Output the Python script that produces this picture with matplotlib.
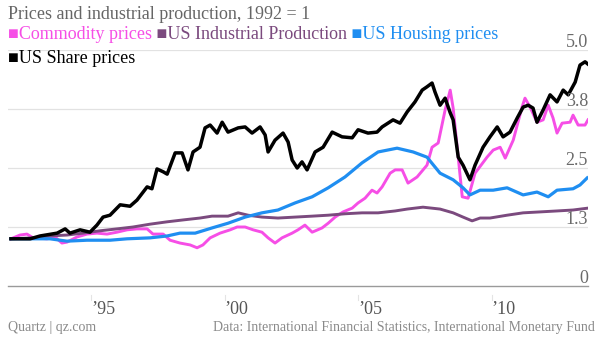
import matplotlib
matplotlib.use("Agg")
import matplotlib.pyplot as plt

# ---------------- data (index, 1992 = 1) ----------------
share_years = [1992.0, 1992.72, 1993.09, 1993.73, 1994.03, 1994.21, 1994.59, 1994.96, 1995.22, 1995.45,
               1995.71, 1996.09, 1996.46, 1996.72, 1997.10, 1997.28, 1997.47, 1997.70, 1997.85, 1998.15,
               1998.41, 1998.63, 1998.82, 1999.08, 1999.27, 1999.46, 1999.72, 1999.91, 2000.13, 2000.51,
               2000.77, 2001.03, 2001.33, 2001.52, 2001.63, 2001.89, 2002.19, 2002.38, 2002.53, 2002.72,
               2002.90, 2003.09, 2003.39, 2003.69, 2004.03, 2004.40, 2004.78, 2005.00, 2005.37, 2005.71,
               2005.90, 2006.31, 2006.57, 2006.84, 2007.13, 2007.40, 2007.58, 2007.77, 2007.88, 2008.07,
               2008.26, 2008.45, 2008.56, 2008.75, 2008.93, 2009.19, 2009.38, 2009.68, 2009.94, 2010.21,
               2010.43, 2010.69, 2010.96, 2011.18, 2011.37, 2011.55, 2011.70, 2011.93, 2012.19, 2012.45,
               2012.68, 2012.87, 2013.13, 2013.31, 2013.50, 2013.61]
share_prices = [1.00, 1.00, 1.06, 1.12, 1.21, 1.12, 1.19, 1.14, 1.29, 1.46,
                1.50, 1.72, 1.69, 1.82, 2.10, 2.06, 2.48, 2.42, 2.37, 2.82,
                2.82, 2.46, 2.84, 2.94, 3.35, 3.41, 3.24, 3.47, 3.26, 3.35,
                3.37, 3.24, 3.37, 3.20, 2.84, 3.09, 3.24, 3.05, 2.67, 2.50,
                2.63, 2.46, 2.84, 2.94, 3.26, 3.16, 3.14, 3.31, 3.24, 3.26,
                3.37, 3.52, 3.45, 3.69, 3.90, 4.15, 4.22, 4.30, 4.11, 3.83,
                3.98, 3.67, 3.52, 2.73, 2.56, 2.25, 2.56, 2.94, 3.16, 3.37,
                3.16, 3.26, 3.56, 3.79, 3.83, 3.77, 3.47, 3.73, 4.05, 3.90,
                4.15, 4.05, 4.32, 4.68, 4.75, 4.70]

commodity_years = [1992.0, 1992.34, 1992.60, 1992.83, 1993.35, 1993.65, 1993.91, 1994.10, 1994.48, 1994.85,
                   1995.22, 1995.60, 1995.97, 1996.35, 1996.72, 1997.10, 1997.32, 1997.70, 1997.96, 1998.33,
                   1998.71, 1998.97, 1999.19, 1999.46, 1999.83, 2000.21, 2000.47, 2000.77, 2001.07, 2001.40,
                   2001.63, 2001.89, 2002.15, 2002.53, 2002.75, 2003.01, 2003.28, 2003.65, 2003.88, 2004.14,
                   2004.44, 2004.78, 2005.00, 2005.26, 2005.52, 2005.71, 2005.90, 2006.20, 2006.39, 2006.65,
                   2006.87, 2007.21, 2007.58, 2007.77, 2008.00, 2008.26, 2008.45, 2008.56, 2008.75, 2008.90,
                   2009.12, 2009.38, 2009.83, 2010.06, 2010.32, 2010.51, 2010.81, 2011.14, 2011.25, 2011.44,
                   2011.70, 2011.93, 2012.12, 2012.30, 2012.45, 2012.64, 2012.94, 2013.05, 2013.24, 2013.50,
                   2013.61]
commodity_prices = [1.00, 1.08, 1.10, 1.02, 1.00, 1.04, 0.91, 0.93, 1.04, 1.10,
                    1.12, 1.10, 1.14, 1.19, 1.21, 1.21, 1.10, 1.10, 0.97, 0.91,
                    0.87, 0.81, 0.87, 1.02, 1.12, 1.19, 1.25, 1.25, 1.19, 1.14,
                    1.02, 0.91, 1.02, 1.12, 1.19, 1.29, 1.14, 1.23, 1.33, 1.46,
                    1.57, 1.65, 1.76, 1.86, 2.03, 1.97, 2.10, 2.39, 2.46, 2.46,
                    2.18, 2.31, 2.56, 2.94, 3.03, 3.73, 4.15, 3.77, 2.73, 1.89,
                    1.86, 2.39, 2.73, 2.88, 2.94, 2.71, 3.09, 3.79, 3.98, 3.79,
                    3.47, 3.52, 3.83, 3.56, 3.24, 3.45, 3.47, 3.62, 3.41, 3.41,
                    3.52]

housing_years = [1992.0, 1992.72, 1993.46, 1994.10, 1994.85, 1995.71, 1996.35, 1997.21, 1997.85, 1998.33,
                 1998.90, 1999.53, 2000.13, 2000.77, 2001.40, 2002.00, 2002.64, 2003.28, 2003.88, 2004.51,
                 2005.15, 2005.75, 2006.46, 2007.06, 2007.58, 2008.07, 2008.56, 2008.93, 2009.19, 2009.57,
                 2010.06, 2010.58, 2011.18, 2011.70, 2012.12, 2012.45, 2013.05, 2013.31, 2013.58]
housing_prices = [1.00, 1.00, 1.00, 0.95, 0.97, 0.97, 1.00, 1.02, 1.06, 1.12,
                  1.12, 1.23, 1.33, 1.46, 1.55, 1.61, 1.76, 1.89, 2.08, 2.31,
                  2.61, 2.84, 2.92, 2.84, 2.73, 2.39, 2.25, 2.08, 1.93, 2.03,
                  2.03, 2.08, 1.93, 1.99, 1.89, 2.03, 2.06, 2.14, 2.29]

industrial_years = [1992.0, 1992.83, 1993.46, 1994.10, 1994.70, 1995.34, 1995.97, 1996.57, 1997.21, 1997.85,
                    1998.45, 1999.08, 1999.53, 2000.13, 2000.51, 2000.88, 2001.40, 2002.00, 2002.64, 2003.28,
                    2003.88, 2004.51, 2005.15, 2005.75, 2006.39, 2006.84, 2007.43, 2008.07, 2008.56, 2008.93,
                    2009.27, 2009.57, 2009.94, 2010.58, 2011.18, 2011.82, 2012.45, 2013.05, 2013.61]
industrial_prod = [1.00, 1.02, 1.06, 1.08, 1.12, 1.17, 1.21, 1.25, 1.31, 1.36,
                   1.40, 1.44, 1.48, 1.48, 1.55, 1.50, 1.46, 1.44, 1.46, 1.48,
                   1.50, 1.53, 1.55, 1.55, 1.59, 1.63, 1.67, 1.63, 1.55, 1.46,
                   1.38, 1.44, 1.44, 1.50, 1.55, 1.57, 1.59, 1.61, 1.65]

y_ticks = [0, 1.25, 2.5, 3.75, 5.0]
y_labels = ["0", "1.3", "2.5", "3.8", "5.0"]
x_ticks = [1995, 2000, 2005, 2010]
x_labels = ["\u201995", "\u201900", "\u201905", "\u201910"]

series_names = ["Commodity prices", "US Industrial Production", "US Housing prices", "US Share prices"]
colors = ["#f64ee6", "#7b4a7e", "#1f8ef1", "#000000"]

# ---------------- figure ----------------
plt.rcParams["font.family"] = ["Liberation Serif", "DejaVu Serif"]
W, H = 605, 352
fig = plt.figure(figsize=(W / 100, H / 100), dpi=100)

ax_left, ax_right, ax_top, ax_bottom = 8, 588, 50, 286
ax = fig.add_axes([ax_left / W, 1 - ax_bottom / H, (ax_right - ax_left) / W, (ax_bottom - ax_top) / H])
ax.set_xlim(1991.89, 2013.61)
ax.set_ylim(0, 5.0)
ax.axis("off")

# grid lines
for v in y_ticks[1:]:
    ax.axhline(v, color="#e2e2e2", lw=0.9, zorder=0)
ax.axhline(0, color="#9a9a9a", lw=1.0, zorder=0, clip_on=False)

# y labels (right side, just above each grid line)
for v, lab in zip(y_ticks, y_labels):
    ax.annotate(lab, xy=(1, v), xycoords=("axes fraction", "data"), xytext=(0, 2),
                textcoords="offset points", ha="right", va="baseline",
                fontsize=13, color="#6a6a6a", zorder=5)

# x ticks and labels
for xt, lab in zip(x_ticks, x_labels):
    ax.plot([xt, xt], [-0.19, -0.29], color="#e4e4e4", lw=0.8, clip_on=False)
    ax.annotate(lab, xy=(xt, 0), xycoords="data", xytext=(0, -10.5),
                textcoords="offset points", ha="left", va="top",
                fontsize=13, color="#555555")

# lines
ax.plot(commodity_years, commodity_prices, color=colors[0], lw=2.1, zorder=2, solid_joinstyle="round")
ax.plot(industrial_years, industrial_prod, color=colors[1], lw=2.1, zorder=2, solid_joinstyle="round")
ax.plot(housing_years, housing_prices, color=colors[2], lw=2.3, zorder=2, solid_joinstyle="round")
ax.plot(share_years, share_prices, color=colors[3], lw=2.5, zorder=3, solid_joinstyle="round")

# title
fig.text(8 / W, 1 - 19 / H, "Prices and industrial production, 1992 = 1", ha="left", va="baseline",
         fontsize=13, color="#666666")

# legend (colored squares + colored text, chained)
prev = fig.text(8 / W, 1 - 39 / H, "\u25a0" + series_names[0], ha="left", va="baseline",
                fontsize=13, color=colors[0])
for name, c in zip(series_names[1:3], colors[1:3]):
    prev = ax.annotate(" \u25a0" + name, xy=(1, 0), xycoords=prev, ha="left", va="bottom",
                       fontsize=13, color=c, annotation_clip=False)
fig.text(8 / W, 1 - 63 / H, "\u25a0" + series_names[3], ha="left", va="baseline",
         fontsize=13, color=colors[3])

# footer
fig.text(8 / W, 1 - 331 / H, "Quartz | qz.com", ha="left", va="baseline", fontsize=10, color="#8a8a8a")
fig.text(595 / W, 1 - 331 / H, "Data: International Financial Statistics, International Monetary Fund",
         ha="right", va="baseline", fontsize=10, color="#8a8a8a")

fig.savefig("out.png", dpi=100)
